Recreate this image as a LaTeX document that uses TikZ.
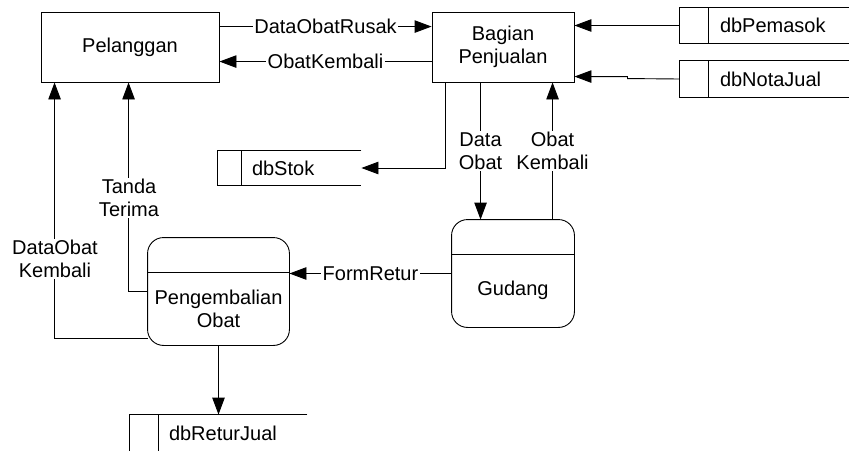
\documentclass[tikz,border=0pt]{standalone}
\usepackage{fontspec}
\setmainfont{Liberation Sans}
\usetikzlibrary{arrows.meta,calc}
\begin{document}
\begin{tikzpicture}[x=1pt,y=-1pt,
  font=\fontsize{20}{23}\selectfont,
  line width=0.9pt,
  flow/.style={-{Triangle[length=17pt,width=12.5pt]}},
  lbl/.style={fill=white,inner sep=1.5pt,align=center},
  ent/.style={draw,inner sep=0pt,align=center},
  proc/.style={inner sep=0pt,align=center},
  storebox/.style={inner sep=0pt}]
\useasboundingbox (0,0) rectangle (849,450);
\clip (0,0) rectangle (849,450);

% entities
\node[ent,minimum width=178pt,minimum height=70pt] (pel) at (130,47) {Pelanggan};
\node[ent,minimum width=142pt,minimum height=70pt] (bag) at (503,47) {Bagian\\Penjualan};

% processes
\node[proc,minimum width=122pt,minimum height=107pt] (gud) at (513,273.5) {};
\draw[rounded corners=16pt] (gud.north west) rectangle (gud.south east);
\draw ([yshift=-35pt]gud.north west) -- ([yshift=-35pt]gud.north east);
\node (gudT) at (513,290) {Gudang};

\node[proc,minimum width=141pt,minimum height=107pt] (pen) at (218.5,291.5) {};
\draw[rounded corners=16pt] (pen.north west) rectangle (pen.south east);
\draw ([yshift=-35pt]pen.north west) -- ([yshift=-35pt]pen.north east);
\node[align=center] (penT) at (218.5,309) {Pengembalian\\Obat};

% stores
\node[storebox,minimum width=180pt,minimum height=35pt] (pem) at (770,25.5) {};
\node[storebox,minimum width=180pt,minimum height=36pt] (nota) at (770,79) {};
\node[storebox,minimum width=143pt,minimum height=34pt] (stok) at (289.5,168) {};
\node[storebox,minimum width=177pt,minimum height=36pt] (rj) at (218.5,433) {};
\foreach \s/\d in {pem/29,nota/29,stok/24,rj/29}{
  \draw (\s.north east) -- (\s.north west) -- (\s.south west) -- (\s.south east);
  \draw ([xshift=\d pt]\s.north west) -- ([xshift=\d pt]\s.south west);
}
\node[anchor=west,inner sep=0pt] (pemT) at ([xshift=40pt]pem.west) {dbPemasok};
\node[anchor=west,inner sep=0pt] (notaT) at ([xshift=40pt]nota.west) {dbNotaJual};
\node[anchor=west,inner sep=0pt] (stokT) at ([xshift=34pt]stok.west) {dbStok};
\node[anchor=west,inner sep=0pt] (rjT) at ([xshift=39pt]rj.west) {dbReturJual};

% flows
\draw[flow] ([yshift=-15pt]pel.north east) -- node[lbl]{DataObatRusak} ([yshift=-15pt]bag.north west);
\draw[flow] ([yshift=-50pt]bag.north west) -- node[lbl]{ObatKembali} ([yshift=-50pt]pel.north east);
\draw[flow] (pem.west) -- (bag.east |- pem.west);
\draw[flow] (nota.west) -- ([xshift=53pt,yshift=-67pt]bag.north east) -- ([xshift=53pt,yshift=-65pt]bag.north east) -- ([yshift=-65pt]bag.north east);
\draw[flow] ([xshift=14pt]bag.south west) |- (stok.east);
\draw[flow] ([xshift=49pt]bag.south west) coordinate (dA) -- node[lbl]{Data\\Obat} (dA |- gud.north);
\draw[flow] ([xshift=101pt]gud.north west) coordinate (oK) -- node[lbl]{Obat\\Kembali} (oK |- bag.south);
\draw[flow] (gud.west) -- node[lbl]{FormRetur} (pen.east |- gud.west);
\draw[flow] (pen.south) -- (rj.north);
\draw[flow] (pen.west) -| ([xshift=88pt]pel.south west) coordinate (tT);
\draw[flow] ([yshift=7pt]pen.south west) -| ([xshift=14pt]pel.south west) coordinate (dK);
\node[lbl] (tTL) at (129,198) {Tanda\\Terima};
\node[lbl] (dKL) at (55,259) {DataObat\\Kembali};
\end{tikzpicture}
\end{document}
